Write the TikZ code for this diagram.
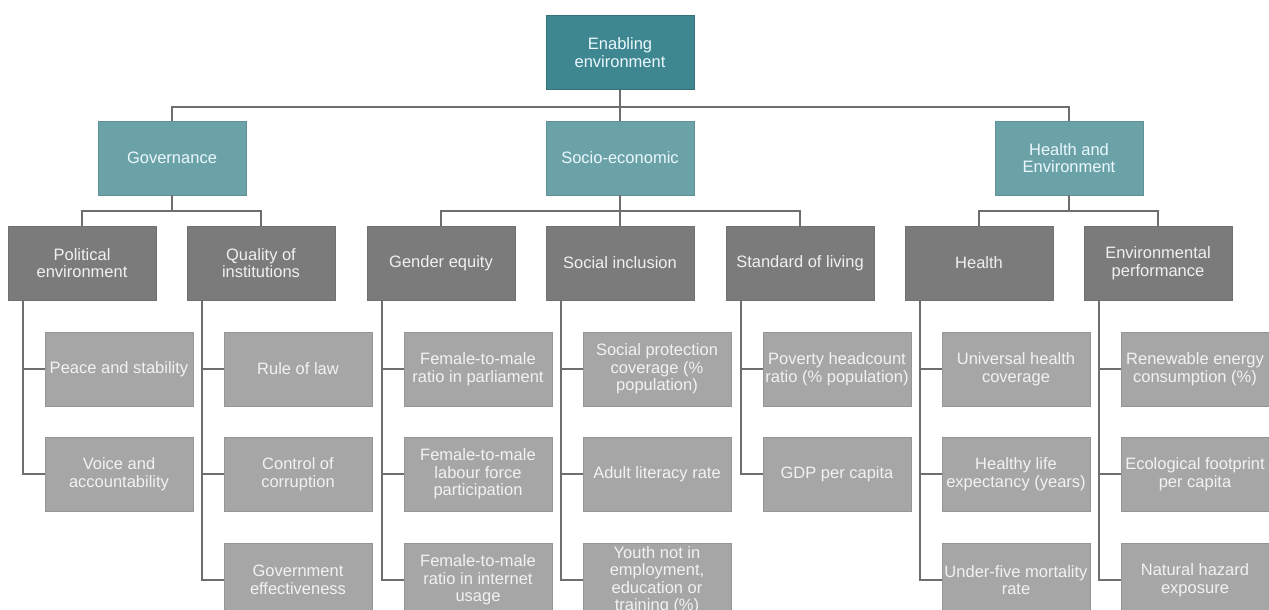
\documentclass[tikz,border=0pt]{standalone}
\usepackage{fontspec}
\setmainfont{Liberation Sans}
\definecolor{topc}{HTML}{3E8790}
\definecolor{lonec}{HTML}{6BA2A8}
\definecolor{ltwoc}{HTML}{7B7B7B}
\definecolor{leafc}{HTML}{A6A6A6}
\definecolor{linec}{HTML}{6E6E6E}
\begin{document}
\begin{tikzpicture}[x=1pt,y=-1pt,
  box/.style={minimum width=148pt,minimum height=74pt,inner sep=0pt,align=center,
    font=\fontsize{16.5}{17.5}\selectfont},
  topbox/.style={box,fill=topc,draw=topc!85!black,line width=0.8pt,text=cyan!8!white},
  onebox/.style={box,fill=lonec,draw=lonec!90!black,line width=0.8pt,text=cyan!8!white},
  twobox/.style={box,fill=ltwoc,draw=ltwoc!92!black,line width=0.8pt,text=white!94!black},
  leafbox/.style={box,fill=leafc,draw=leafc!90!black,line width=0.8pt,text=white!95!black},
  conn/.style={draw=linec,line width=2pt}]
\useasboundingbox (0,0) rectangle (1269,610);
% top
\node[topbox] (top) at (620,52.5) {Enabling\\environment};
% level 1
\node[onebox] (gov) at (172,158) {Governance};
\node[onebox] (soc) at (620,158) {Socio-economic};
\node[onebox] (hen) at (1069,158) {Health and\\Environment};
% level 2
\node[twobox] (pol) at (82,263) {Political\\environment};
\node[twobox] (qua) at (261,263) {Quality of\\institutions};
\node[twobox] (gen) at (441,263) {Gender equity};
\node[twobox] (sin) at (620,263) {Social inclusion};
\node[twobox] (sol) at (800,263) {Standard of living};
\node[twobox] (hea) at (979,263) {Health};
\node[twobox] (env) at (1158,263) {Environmental\\performance};
% leaves
\node[leafbox] (pola) at (119,369) {Peace and stability};
\node[leafbox] (polb) at (119,474) {Voice and\\accountability};
\node[leafbox] (quaa) at (298,369) {Rule of law};
\node[leafbox] (quab) at (298,474) {Control of\\corruption};
\node[leafbox] (quac) at (298,580) {Government\\effectiveness};
\node[leafbox] (gena) at (478,369) {Female-to-male\\ratio in parliament};
\node[leafbox] (genb) at (478,474) {Female-to-male\\labour force\\participation};
\node[leafbox] (genc) at (478,580) {Female-to-male\\ratio in internet\\usage};
\node[leafbox] (sina) at (657,369) {Social protection\\coverage (\%\\population)};
\node[leafbox] (sinb) at (657,474) {Adult literacy rate};
\node[leafbox] (sinc) at (657,580) {Youth not in\\employment,\\education or\\training (\%)};
\node[leafbox] (sola) at (837,369) {Poverty headcount\\ratio (\% population)};
\node[leafbox] (solb) at (837,474) {GDP per capita};
\node[leafbox] (heaa) at (1016,369) {Universal health\\coverage};
\node[leafbox] (heab) at (1016,474) {Healthy life\\expectancy (years)};
\node[leafbox] (heac) at (1016,580) {Under-five mortality\\rate};
\node[leafbox] (enva) at (1195,369) {Renewable energy\\consumption (\%)};
\node[leafbox] (envb) at (1195,474) {Ecological footprint\\per capita};
\node[leafbox] (envc) at (1195,580) {Natural hazard\\exposure};
% connectors top -> level 1
\foreach \c in {gov,soc,hen} \draw[conn] (top.south) -- ++(0,17) -| (\c.north);
% level 1 -> level 2
\foreach \c in {pol,qua} \draw[conn] (gov.south) -- ++(0,16) -| (\c.north);
\foreach \c in {gen,sin,sol} \draw[conn] (soc.south) -- ++(0,16) -| (\c.north);
\foreach \c in {hea,env} \draw[conn] (hen.south) -- ++(0,16) -| (\c.north);
% level 2 -> leaves
\foreach \p/\l in {pol/pola,pol/polb,qua/quaa,qua/quab,qua/quac,gen/gena,gen/genb,gen/genc,
  sin/sina,sin/sinb,sin/sinc,sol/sola,sol/solb,hea/heaa,hea/heab,hea/heac,env/enva,env/envb,env/envc}
  \draw[conn] ([xshift=15pt]\p.south west) |- (\l.west);
\end{tikzpicture}
\end{document}
